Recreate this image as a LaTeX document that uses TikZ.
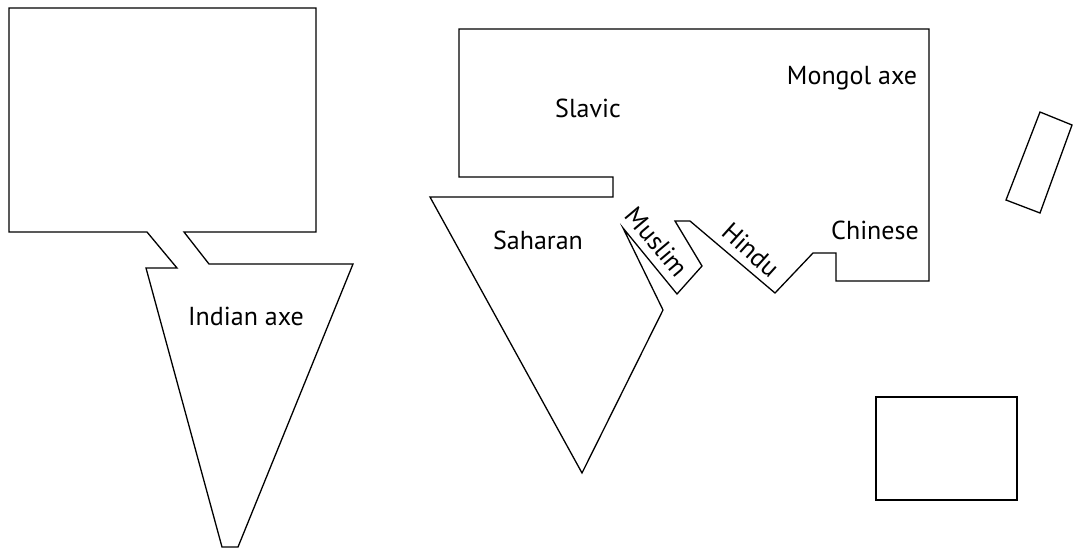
\documentclass[tikz,border=0pt]{standalone}
\usepackage{fontspec}
\setmainfont{PT Sans}
\usetikzlibrary{positioning}

\begin{document}
\begin{tikzpicture}[
  x=1pt, y=-1pt,
  land/.style={draw, line width=1.3pt, line join=miter},
  region/.style={font=\fontsize{26}{30}\selectfont, inner sep=0pt}
]
\useasboundingbox (0,0) rectangle (1073,550);

% Left continent
\draw[land] (9,232) -- (147,232) -- (177,268) -- (146,268) -- (222,547)
  -- (238,547) -- (353,264) -- (209,264) -- (184,232) -- (316,232)
  -- (316,8) -- (9,8) -- cycle;

% Middle continent
\draw[land] (459,29) -- (459,177) -- (613,177) -- (613,197) -- (430,197)
  -- (582,473) -- (663,310) -- (623,228) -- (677,294) -- (702,266)
  -- (675,221) -- (690,221) -- (775,293) -- (813,253) -- (836,253)
  -- (836,281) -- (929,281) -- (929,29) -- cycle;

% Islands
\draw[land] (1040,112) -- (1072,125) -- (1040,213) -- (1006,200) -- cycle;
\draw[land] (876,397) rectangle (1017,500);

% Labels
\node[region] (indian) at (246,316) {Indian axe};
\node[region] (slavic) at (588,108) {Slavic};
\node[region] (mongol) at (852,78) {Mongol axe};
\node[region] (saharan) at (538,240) {Saharan};
\node[region] (chinese) at (875,230) {Chinese};
\node[region, rotate=-50] (muslim) at (657,242) {Muslim};
\node[region, rotate=-42] (hindu) at (751,250) {Hindu};

\end{tikzpicture}
\end{document}
